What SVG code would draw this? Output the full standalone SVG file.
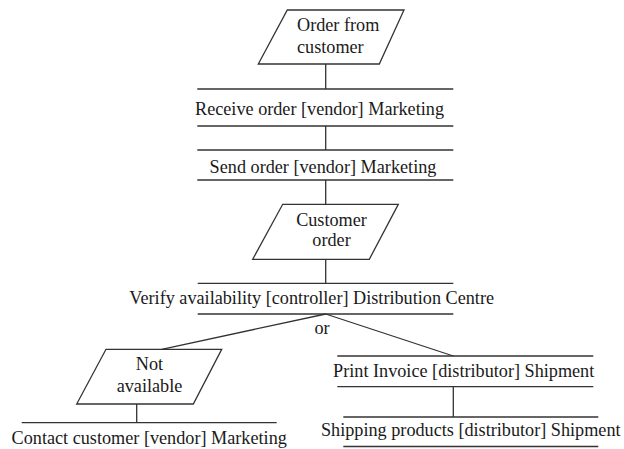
<svg xmlns="http://www.w3.org/2000/svg" width="624" height="449" viewBox="0 0 624 449">
  <style>
    .t { font-family: "Liberation Serif", "Times New Roman", serif; font-size: 18.2px; fill: #1a1a1a; }
    .c { text-anchor: middle; }
    .ln { stroke: #333; stroke-width: 1.3; fill: none; }
    .shape { stroke: #333; stroke-width: 1.3; fill: #fff; }
  </style>
  <rect width="624" height="449" fill="#fff"/>

  <!-- connectors -->
  <g id="connectors" class="ln">
    <line x1="325.7" y1="64" x2="325.7" y2="89"/>
    <line x1="325.7" y1="126" x2="325.7" y2="150"/>
    <line x1="325.7" y1="180" x2="325.7" y2="204"/>
    <line x1="325.7" y1="259" x2="325.7" y2="283"/>
    <line x1="325.7" y1="314" x2="161.7" y2="349.3"/>
    <line x1="325.7" y1="314" x2="453.3" y2="356"/>
    <line x1="136.7" y1="404" x2="136.7" y2="422.7"/>
    <line x1="453.3" y1="386.7" x2="453.3" y2="417"/>
  </g>

  <g id="order-from-customer">
    <polygon class="shape" points="287.3,10 404,10 379.3,64 258.3,64"/>
    <text class="t" x="297" y="31">Order from</text>
    <text class="t" x="297" y="53">customer</text>
  </g>

  <g id="receive-order">
    <line class="ln" x1="197.3" y1="89" x2="453.3" y2="89"/>
    <line class="ln" x1="197.3" y1="126" x2="453.3" y2="126"/>
    <text class="t c" x="319.5" y="114.5">Receive order [vendor] Marketing</text>
  </g>

  <g id="send-order">
    <line class="ln" x1="197.3" y1="150" x2="453.3" y2="150"/>
    <line class="ln" x1="197.3" y1="180" x2="453.3" y2="180"/>
    <text class="t c" x="323" y="173">Send order [vendor] Marketing</text>
  </g>

  <g id="customer-order">
    <polygon class="shape" points="282.7,204.3 398.3,204.3 369.3,259.3 252.7,259.3"/>
    <text class="t c" x="331.5" y="225.5">Customer</text>
    <text class="t c" x="331.5" y="245.5">order</text>
  </g>

  <g id="verify-availability">
    <line class="ln" x1="197.7" y1="283.3" x2="453.3" y2="283.3"/>
    <line class="ln" x1="197.7" y1="314" x2="453.3" y2="314"/>
    <text class="t c" x="311.7" y="303.5">Verify availability [controller] Distribution Centre</text>
  </g>

  <g id="or-label">
    <text class="t c" x="322" y="333.5">or</text>
  </g>

  <g id="not-available">
    <polygon class="shape" points="106,349.3 221.7,349.3 193.3,404 76.7,404"/>
    <text class="t c" x="149.5" y="370">Not</text>
    <text class="t c" x="149.5" y="391.7">available</text>
  </g>

  <g id="contact-customer">
    <line class="ln" x1="21.7" y1="422.7" x2="276.7" y2="422.7"/>
    <text class="t c" x="149.2" y="443.5">Contact customer [vendor] Marketing</text>
  </g>

  <g id="print-invoice">
    <line class="ln" x1="337.3" y1="356" x2="593.3" y2="356"/>
    <line class="ln" x1="337.3" y1="386.7" x2="593.3" y2="386.7"/>
    <text class="t c" x="463.7" y="377">Print Invoice [distributor] Shipment</text>
  </g>

  <g id="shipping-products">
    <line class="ln" x1="343.3" y1="417" x2="598.3" y2="417"/>
    <line class="ln" x1="343.3" y1="446.5" x2="598.3" y2="446.5"/>
    <text class="t c" x="470.8" y="436">Shipping products [distributor] Shipment</text>
  </g>
</svg>
